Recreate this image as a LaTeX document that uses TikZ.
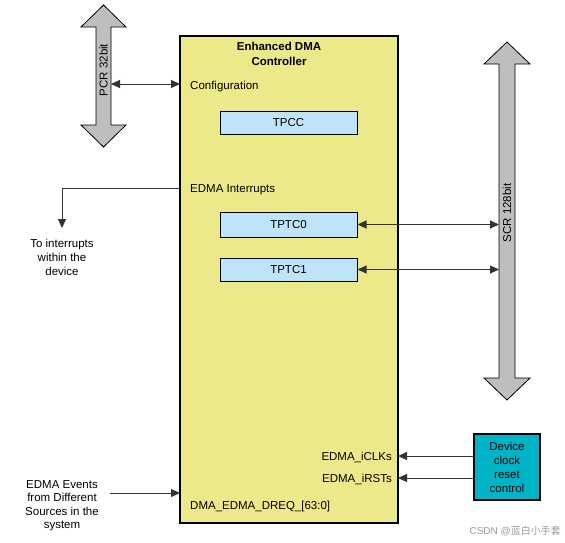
\documentclass[tikz,border=0pt]{standalone}
\usepackage{fontspec}
\setmainfont{Liberation Sans}
\newfontfamily\cjk{Noto Sans CJK SC}
\usetikzlibrary{arrows.meta,positioning}
\definecolor{boxyellow}{RGB}{235,233,138}
\definecolor{tpblue}{RGB}{191,227,250}
\definecolor{devteal}{RGB}{0,180,200}
\definecolor{busgray}{RGB}{190,190,190}
\tikzset{
  txt/.style={font=\fontsize{11.5}{13.5}\selectfont, inner sep=0pt, yshift=-1.5pt},
  subbox/.style={draw=black, line width=1pt, fill=tpblue, minimum width=137pt, minimum height=23pt, inner sep=0pt, font=\fontsize{11.5}{13.5}\selectfont},
  bus/.style={draw=black, line width=0.8pt, fill=busgray},
  conn/.style={draw=black!80, line width=0.8pt},
  tip/.style={-{Triangle[length=9pt,width=8pt]}},
  dtip/.style={{Triangle[length=9pt,width=8pt]}-{Triangle[length=9pt,width=8pt]}},
}
\begin{document}
\begin{tikzpicture}[x=1pt,y=-1pt]
\useasboundingbox (0,0) rectangle (565,542);
% main box
\draw[line width=1.2pt, fill=boxyellow] (180,36) rectangle (398,523);
\node[txt, font=\fontsize{11.5}{15}\selectfont\bfseries, align=center] (title) at (279,52.5) {Enhanced DMA\\Controller};
\node[txt, anchor=west] (config) at (190,85) {Configuration};
\node[txt, anchor=west] (intr) at (190,188) {EDMA Interrupts};
\node[subbox] (tpcc) at (288.5,123) {TPCC};
\node[subbox, minimum height=25pt] (tptc0) at (288.5,224.5) {TPTC0};
\node[subbox] (tptc1) at (288.5,269.5) {TPTC1};
\node[txt, anchor=east] (clk) at (392,456) {EDMA\_iCLKs};
\node[txt, anchor=east] (rst) at (392,478) {EDMA\_iRSTs};
\node[txt, anchor=west] (dreq) at (190,505) {DMA\_EDMA\_DREQ\_[63:0]};
% PCR bus
\draw[bus] (103.5,5) -- (126,27) -- (111,27) -- (111,125) -- (126,125) -- (103.5,147) -- (81,125) -- (96,125) -- (96,27) -- (81,27) -- cycle;
\node[font=\fontsize{11.5}{13.5}\selectfont, inner sep=0pt, rotate=90] (pcr) at (103.5,70) {PCR 32bit};
\coordinate (pcrR) at (111,84);
\coordinate (mainCfg) at (180,84);
\draw[conn, dtip] (pcrR) -- (mainCfg);
% SCR bus
\draw[bus] (507,42) -- (530,64) -- (515,64) -- (515,378) -- (530,378) -- (507,400) -- (484,378) -- (499,378) -- (499,64) -- (484,64) -- cycle;
\node[font=\fontsize{11.5}{13.5}\selectfont, inner sep=0pt, rotate=90] (scr) at (507,213) {SCR 128bit};
\coordinate (scr0) at (499,224.5);
\coordinate (scr1) at (499,269.5);
\draw[conn, dtip] (tptc0.east) -- (scr0);
\draw[conn, dtip] (tptc1.east) -- (scr1);
% interrupts
\coordinate (intrL) at (180,188);
\coordinate (intrC) at (62,188);
\coordinate (intrD) at (62,228);
\node[txt, align=center, font=\fontsize{11.5}{14}\selectfont] (tointr) at (62,256) {To interrupts\\within the\\device};
\draw[conn, tip] (intrL) -- (intrC) -- (intrD);
% events
\node[txt, align=center] (events) at (62,504) {EDMA Events\\from Different\\Sources in the\\system};
\coordinate (evR) at (110,493);
\coordinate (mainDreq) at (180,493);
\draw[conn, tip] (evR) -- (mainDreq);
% device box
\node[draw=black, line width=1.2pt, fill=devteal, minimum width=66pt, minimum height=66pt, inner sep=0pt, align=center, font=\fontsize{11.5}{14}\selectfont] (dev) at (507,467) {Device\\clock\\reset\\control};
\coordinate (mainClk) at (398,456);
\coordinate (mainRst) at (398,478);
\draw[conn, tip] (dev.west |- mainClk) -- (mainClk);
\draw[conn, tip] (dev.west |- mainRst) -- (mainRst);
% watermark
\node[anchor=east, inner sep=0pt, text=black!40, font=\fontsize{10}{12}\selectfont] (wm) at (561,531) {CSDN @{\cjk 蓝白小手套}};
\end{tikzpicture}
\end{document}
